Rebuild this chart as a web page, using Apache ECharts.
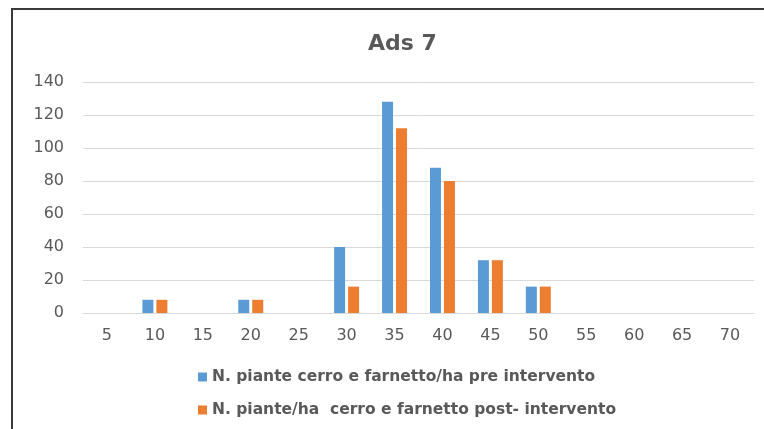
<!DOCTYPE html>
<html><head><meta charset="utf-8">
<script src="https://cdn.jsdelivr.net/npm/echarts@6/dist/echarts.min.js"></script>
<style>html,body{margin:0;padding:0;background:#fff}#c{width:764px;height:429px}</style>
</head><body><div id="c"></div>
<script>
const categories = ['5','10','15','20','25','30','35','40','45','50','55','60','65','70'];
const preValues  = [0, 8, 0, 8, 0, 40, 128, 88, 32, 16, 0, 0, 0, 0];
const postValues = [0, 8, 0, 8, 0, 16, 112, 80, 32, 16, 0, 0, 0, 0];
const seriesNames = ['N. piante cerro e farnetto/ha pre intervento', 'N. piante/ha  cerro e farnetto post- intervento'];
const chart = echarts.init(document.getElementById('c'));
const txt = '#595959';
const ff = 'DejaVu Sans';
chart.setOption({
  animation: false,
  backgroundColor: '#fff',
  graphic: [{type:'rect', shape:{x:12, y:9, width:780, height:440}, style:{fill:'none', stroke:'#3a3a3a', lineWidth:2}, silent:true}],
  title: {text:'Ads 7', left:363, top:28, textStyle:{fontFamily:ff, fontSize:22, fontWeight:'bold', color:txt}},
  legend: {orient:'vertical', left:193, top:364, itemWidth:9, itemHeight:9, itemGap:17, icon:'rect',
    textStyle:{fontFamily:ff, fontSize:15.5, fontWeight:'bold', color:txt}, data: seriesNames},
  grid: {left:83, right:10, top:82, bottom:116},
  xAxis: {type:'category', data: categories, axisTick:{show:false},
    axisLine:{lineStyle:{color:'#d9d9d9'}},
    axisLabel:{color:txt, fontFamily:ff, fontSize:16, margin:15}},
  yAxis: {type:'value', min:0, max:140, interval:20,
    axisLabel:{color:txt, fontFamily:ff, fontSize:16, margin:19},
    splitLine:{lineStyle:{color:'#d9d9d9'}}},
  series: [
    {name: seriesNames[0], type:'bar', data: preValues, barWidth:11, barGap:'27%', itemStyle:{color:'#5b9bd5'}},
    {name: seriesNames[1], type:'bar', data: postValues, barWidth:11, itemStyle:{color:'#ed7d31'}}
  ]
});
</script></body></html>
